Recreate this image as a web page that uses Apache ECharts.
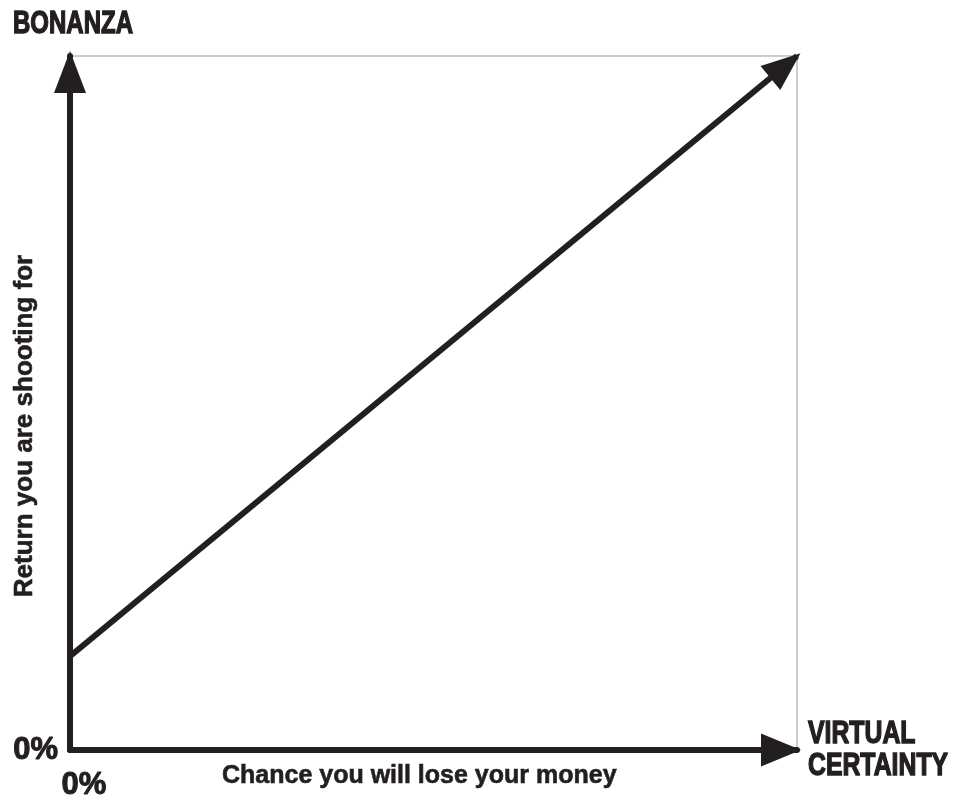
<!DOCTYPE html>
<html>
<head>
<meta charset="utf-8">
<script src="https://cdn.jsdelivr.net/npm/echarts@6/dist/echarts.min.js"></script>
<style>
html, body { margin: 0; padding: 0; background: #fff; }
#chart { width: 953px; height: 807px; }
</style>
</head>
<body>
<div id="chart"></div>
<script>
// ---- data ----
const riskValues = [0, 100];        // chance you will lose your money (%)
const returnValues = [13.5, 100];   // return you are shooting for (%)
const xTickValues = [0];
const xTickLabels = ['0%'];
const yTickValues = [0];
const yTickLabels = ['0%'];
const xAxisEndNames = ['VIRTUAL', 'CERTAINTY'];
const yAxisEndName = 'BONANZA';
const xAxisTitle = 'Chance you will lose your money';
const yAxisTitle = 'Return you are shooting for';

const INK = '#231f20';
const FONT = "'Liberation Sans', Arial, sans-serif";

function tickFormatter(values, labels) {
  return function (v) {
    const i = values.indexOf(v);
    return i >= 0 ? labels[i] : '';
  };
}

const chart = echarts.init(document.getElementById('chart'), null, { renderer: 'canvas' });

chart.setOption({
  backgroundColor: '#ffffff',
  animation: false,
  grid: {
    left: 70, right: 156, top: 56, bottom: 57,
    outerBoundsMode: 'none',
    containLabel: false,
    show: true, borderColor: '#9a9a9a', borderWidth: 1, backgroundColor: 'transparent'
  },
  xAxis: {
    type: 'value', min: 0, max: 100, interval: 100,
    axisLine: {
      show: true,
      lineStyle: { color: INK, width: 6 },
      symbol: ['none', 'triangle'],
      symbolSize: [33, 40],
      symbolOffset: [0, -16]
    },
    axisTick: { show: false },
    splitLine: { show: false },
    axisLabel: {
      formatter: tickFormatter(xTickValues, xTickLabels),
      color: INK, fontFamily: FONT, fontWeight: 'bold', fontSize: 31,
      textBorderColor: INK, textBorderWidth: 1,
      margin: 20, align: 'center', padding: [0, 0, 0, 28]
    }
  },
  yAxis: {
    type: 'value', min: 0, max: 100, interval: 100,
    axisLine: {
      show: true,
      lineStyle: { color: INK, width: 6 },
      symbol: ['none', 'triangle'],
      symbolSize: [32, 42],
      symbolOffset: [0, -16]
    },
    axisTick: { show: false },
    splitLine: { show: false },
    axisLabel: {
      formatter: tickFormatter(yTickValues, yTickLabels),
      color: INK, fontFamily: FONT, fontWeight: 'bold', fontSize: 31,
      textBorderColor: INK, textBorderWidth: 1,
      margin: 12
    }
  },
  series: [{
    type: 'line',
    data: [],
    clip: false,
    silent: true,
    markLine: {
      silent: true,
      animation: false,
      symbol: ['none', 'triangle'],
      symbolSize: [31, 39],
      symbolOffset: [[0, 0], [0, 15]],
      label: { show: false },
      emphasis: { disabled: true },
      lineStyle: { color: INK, width: 6, type: 'solid' },
      data: [[
        { coord: [riskValues[0], returnValues[0]], itemStyle: { color: INK } },
        { coord: [riskValues[1], returnValues[1]], itemStyle: { color: INK } }
      ]]
    }
  }],
  graphic: [
    {
      type: 'text', x: 73, y: 24, scaleX: 0.75,
      style: {
        text: yAxisEndName, fill: INK, stroke: INK, lineWidth: 1.4,
        font: "bold 32px " + FONT,
        textAlign: 'center', textVerticalAlign: 'middle'
      }
    },
    {
      type: 'text', x: 808, y: 734, scaleX: 0.8,
      style: {
        text: xAxisEndNames[0], fill: INK, stroke: INK, lineWidth: 1.4,
        font: "bold 31px " + FONT,
        textAlign: 'left', textVerticalAlign: 'middle'
      }
    },
    {
      type: 'text', x: 808, y: 766, scaleX: 0.8,
      style: {
        text: xAxisEndNames[1], fill: INK, stroke: INK, lineWidth: 1.4,
        font: "bold 31px " + FONT,
        textAlign: 'left', textVerticalAlign: 'middle'
      }
    },
    {
      type: 'text', x: 222, y: 776,
      style: {
        text: xAxisTitle, fill: INK, stroke: INK, lineWidth: 0.6,
        font: "bold 25px " + FONT,
        textAlign: 'left', textVerticalAlign: 'middle'
      }
    },
    {
      type: 'text', x: 25, y: 426, rotation: Math.PI / 2,
      style: {
        text: yAxisTitle, fill: INK, stroke: INK, lineWidth: 0.6,
        font: "bold 26px " + FONT,
        textAlign: 'center', textVerticalAlign: 'middle'
      }
    }
  ]
});
</script>
</body>
</html>
